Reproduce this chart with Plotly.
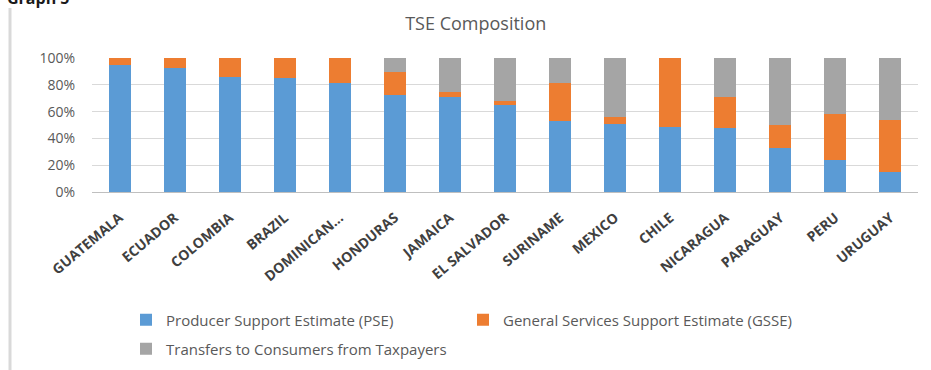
import plotly.graph_objects as go

countries = ["GUATEMALA", "ECUADOR", "COLOMBIA", "BRAZIL", "DOMINICAN…", "HONDURAS",
             "JAMAICA", "EL SALVADOR", "SURINAME", "MEXICO", "CHILE", "NICARAGUA",
             "PARAGUAY", "PERU", "URUGUAY"]
pse = [94.8, 92.4, 85.7, 85.2, 81.7, 72.3, 71.0, 64.7, 52.8, 50.4, 48.4, 47.9, 32.8, 23.9, 15.0]
gsse = [5.2, 7.6, 14.3, 14.8, 18.3, 16.9, 4.0, 3.4, 28.4, 5.4, 51.6, 23.0, 17.1, 34.1, 38.6]
tcft = [0.0, 0.0, 0.0, 0.0, 0.0, 10.8, 25.0, 31.9, 18.8, 44.2, 0.0, 29.1, 50.1, 42.0, 46.4]
y_ticks = [0, 20, 40, 60, 80, 100]
y_tick_labels = ["0%", "20%", "40%", "60%", "80%", "100%"]

FONT = "Open Sans"
GRAY = "#595959"

fig = go.Figure()
fig.add_trace(go.Bar(x=countries, y=pse, name="Producer Support Estimate (PSE)",
                     marker=dict(color="#5B9BD5", line=dict(width=0)), legend="legend"))
fig.add_trace(go.Bar(x=countries, y=gsse, name="General Services Support Estimate (GSSE)",
                     marker=dict(color="#ED7D31", line=dict(width=0)), legend="legend"))
fig.add_trace(go.Bar(x=countries, y=tcft, name="Transfers to Consumers from Taxpayers",
                     marker=dict(color="#A5A5A5", line=dict(width=0)), legend="legend2"))

fig.update_layout(
    width=931, height=370,
    margin=dict(l=92, r=13, t=58, b=178, autoexpand=False),
    barmode="stack", bargap=0.6,
    plot_bgcolor="white", paper_bgcolor="white",
    font=dict(family=FONT, color=GRAY, size=12),
    title=dict(text="TSE Composition", x=0.511, xanchor="center", xref="container",
               y=0.935, yanchor="middle", yref="container",
               font=dict(family=FONT, size=18, color=GRAY)),
    xaxis=dict(tickangle=-40, tickfont=dict(family=FONT, size=14, color="#404040", weight="bold"),
               showgrid=False, showline=False, ticks="", ticklen=0, ticklabelstandoff=14,
               automargin=False),
    yaxis=dict(range=[0, 100], tickmode="array", tickvals=y_ticks, ticktext=y_tick_labels,
               tickfont=dict(family=FONT, size=14, color=GRAY),
               showgrid=True, gridcolor="#D9D9D9", gridwidth=1,
               zeroline=True, zerolinecolor="#BFBFBF", zerolinewidth=1, ticklen=0,
               ticklabelstandoff=16, automargin=False),
    legend=dict(orientation="h", x=(126 - 92) / 826, y=-(320 - 192) / 134, xanchor="left", yanchor="middle",
                entrywidth=292, entrywidthmode="pixels", traceorder="normal", itemwidth=30,
                font=dict(family=FONT, size=15, color=GRAY)),
    legend2=dict(orientation="h", x=(126 - 92) / 826, y=-(349 - 192) / 134, xanchor="left", yanchor="middle",
                 itemwidth=30, font=dict(family=FONT, size=15, color=GRAY)),
    showlegend=True,
)

fig.add_shape(type="line", xref="paper", yref="paper",
              x0=(10 - 92) / 826, x1=(10 - 92) / 826, y0=1 + (58 - 8) / 134, y1=-178 / 134,
              line=dict(color="#D9D9D9", width=3))
fig.add_annotation(text="<b>Graph 5</b>", xref="paper", yref="paper",
                   x=(5 - 92) / 826, y=1 + (58 - 11) / 134, xanchor="left", yanchor="bottom",
                   showarrow=False, font=dict(family=FONT, size=16, color="#1a1a1a"))

fig.write_html("out.html")
